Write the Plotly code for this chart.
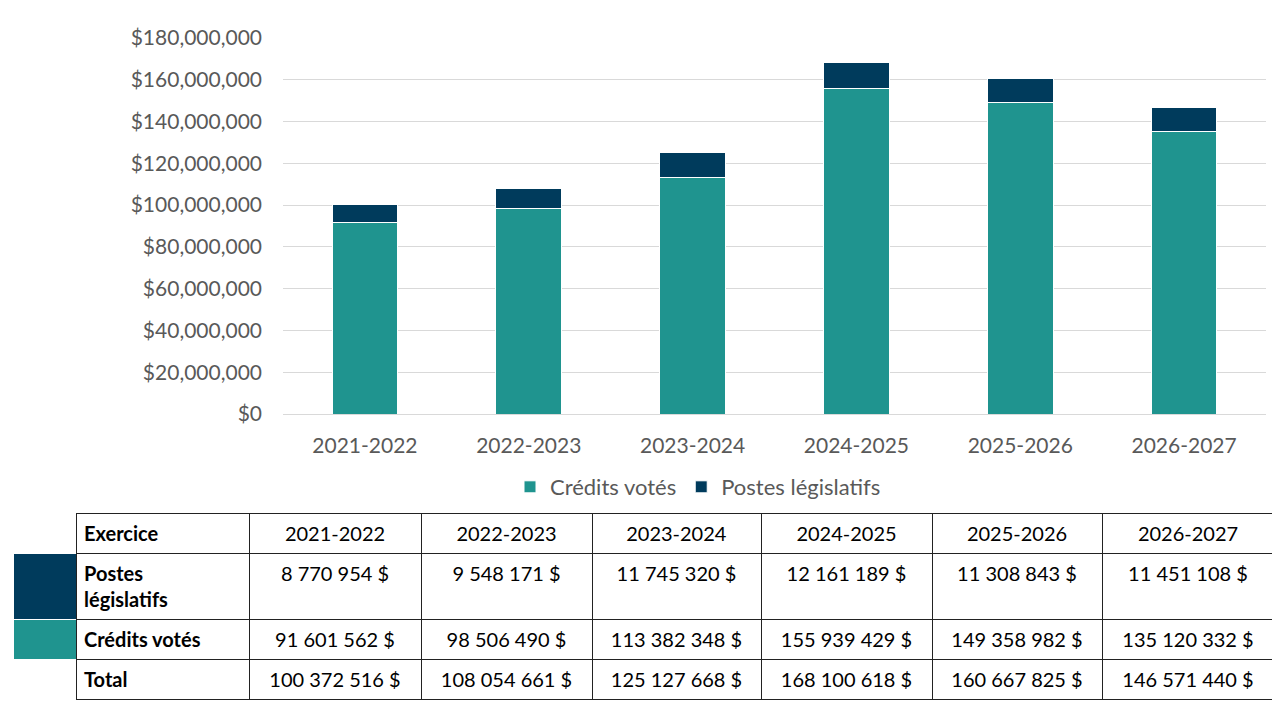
import plotly.graph_objects as go

years = ["2021-2022", "2022-2023", "2023-2024", "2024-2025", "2025-2026", "2026-2027"]
credits_votes = [91601562, 98506490, 113382348, 155939429, 149358982, 135120332]
postes_legislatifs = [8770954, 9548171, 11745320, 12161189, 11308843, 11451108]
totals = [100372516, 108054661, 125127668, 168100618, 160667825, 146571440]

TEAL = "#1F948F"
NAVY = "#003B5C"
GRAY = "#595959"
FONT = "Lato"

# page has an 8px body margin: figure is placed at (8, 8)
OFF = 8
W, H = 1280 - OFF, 720 - OFF


def fx(px):
    return (px - OFF) / W


def fy(py):
    return 1 - (py - OFF) / H


def fr(v):
    return f"{v:,}".replace(",", " ") + " $"


def plain(s):
    return f"<span>{s}</span>"


fig = go.Figure()
fig.add_trace(go.Bar(x=years, y=credits_votes, name="Crédits votés",
                     marker=dict(color=TEAL, line=dict(color="white", width=1))))
fig.add_trace(go.Bar(x=years, y=postes_legislatifs, name="Postes législatifs",
                     marker=dict(color=NAVY, line=dict(color="white", width=1))))

ncols = len(years) + 2
header_vals = ["", "<b>Exercice</b>"] + [plain(y) for y in years]
cell_cols = [["", "", ""],
             ["<b>Postes<br>législatifs</b>", "<b>Crédits votés</b>", "<b>Total</b>"]]
for i in range(len(years)):
    cell_cols.append([plain(fr(postes_legislatifs[i])), plain(fr(credits_votes[i])),
                      plain(fr(totals[i]))])

cell_fill = [[NAVY, TEAL, "white"]] + [["white"] * 3 for _ in range(ncols - 1)]
cell_line = [["white"] * 3] + [["#222222"] * 3 for _ in range(ncols - 1)]
header_line = ["white"] + ["#222222"] * (ncols - 1)
aligns = ["left", "left"] + ["center"] * len(years)

fig.add_trace(go.Table(
    domain=dict(x=[fx(13), fx(1274)], y=[0.0, fy(513)]),
    columnwidth=[63, 173, 172, 171, 169, 171, 170, 172],
    header=dict(values=header_vals, align=aligns, height=38,
                fill_color="white", line=dict(color=header_line, width=1),
                font=dict(family=FONT, size=20, color="black")),
    cells=dict(values=cell_cols, align=aligns, height=38,
               fill_color=cell_fill, line=dict(color=cell_line, width=1),
               font=dict(family=FONT, size=20, color="black")),
))

fig.update_layout(
    width=W, height=H,
    margin=dict(l=0, r=0, t=0, b=0),
    paper_bgcolor="white", plot_bgcolor="white",
    barmode="stack", bargap=0.6,
    font=dict(family=FONT, color=GRAY, size=21),
    xaxis=dict(domain=[fx(283), fx(1266)], showgrid=False, automargin=False,
               showline=True, linecolor="#D9D9D9", linewidth=1,
               ticks="", ticklabelstandoff=13,
               tickfont=dict(size=21, color=GRAY)),
    yaxis=dict(domain=[fy(414), fy(38)], range=[0, 180e6], automargin=False,
               dtick=20e6, tickprefix="$", tickformat=",.0f",
               showgrid=True, gridcolor="#D9D9D9", gridwidth=1,
               zeroline=False, ticks="", ticklabelstandoff=20,
               tickfont=dict(size=21, color=GRAY)),
    legend=dict(orientation="h", x=fx(698), xanchor="center",
                y=fy(487), yanchor="middle",
                font=dict(size=22, color=GRAY), traceorder="normal"),
    showlegend=True,
)

fig.write_html("out.html")
